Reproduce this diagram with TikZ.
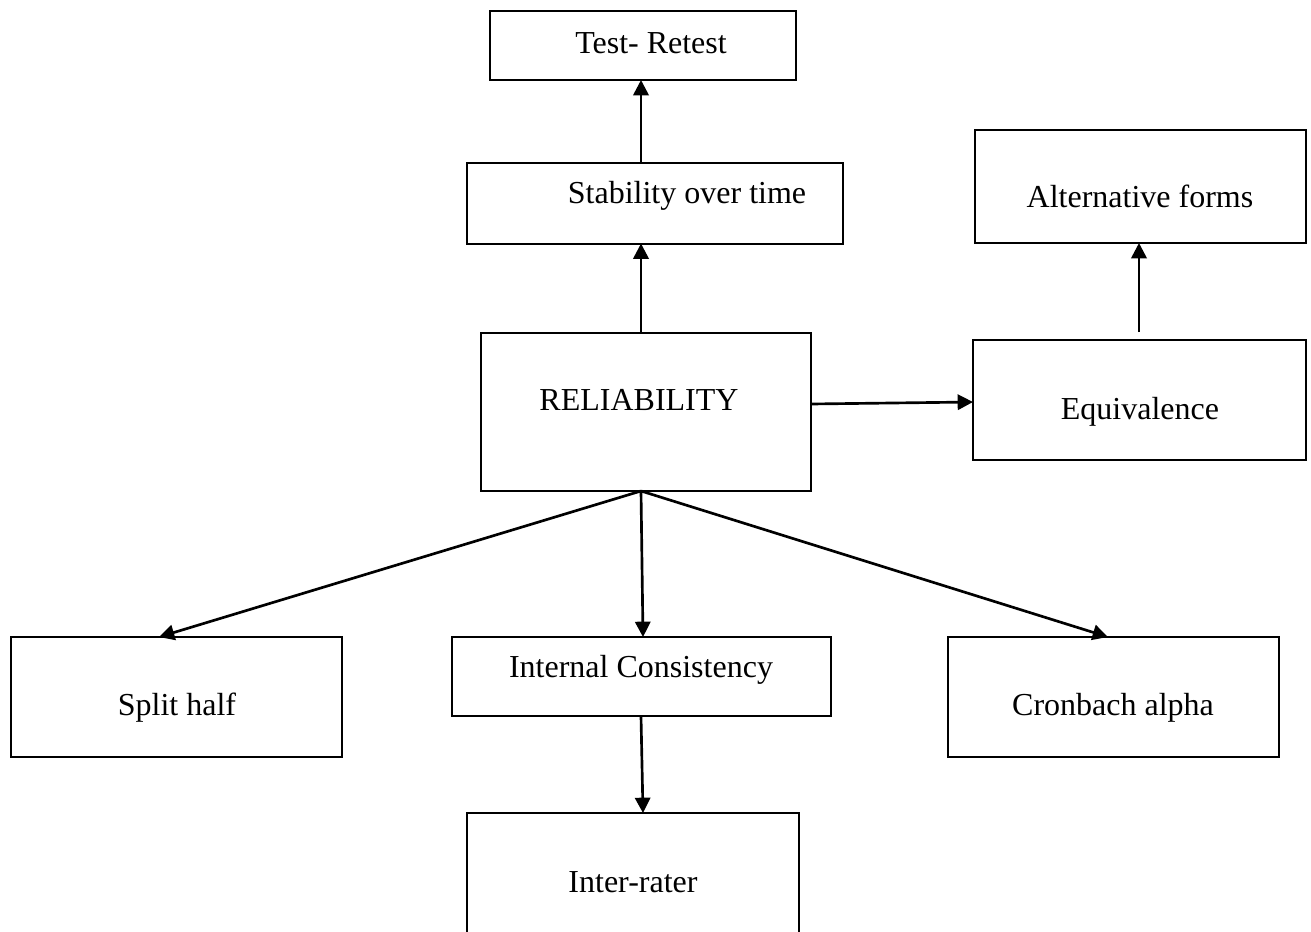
\documentclass[tikz,border=0pt]{standalone}
\usepackage{fontspec}
\setmainfont{Liberation Serif}
\usetikzlibrary{arrows.meta}
\begin{document}
\begin{tikzpicture}[x=0.75pt,y=-0.75pt,
  box/.style={draw,line width=1.5pt,inner sep=0pt,outer sep=0pt},
  lbl/.style={anchor=base,inner sep=0pt,font=\fontsize{24}{28}\selectfont},
  arr/.style={line width=2pt,-{Triangle[length=11.5pt,width=11.5pt]}}]
\useasboundingbox (0,0) rectangle (1311,932);
\clip (0,0) rectangle (1311,932);
% boxes, sized in pixel units
\node[box] (test) at (643,45.5) [minimum width=306*0.75pt,minimum height=69*0.75pt] {};
\node[box] (stab) at (655,203) [minimum width=376*0.75pt,minimum height=81*0.75pt] {};
\node[box] (alt) at (1140.5,186.5) [minimum width=331*0.75pt,minimum height=113*0.75pt] {};
\node[box] (rel) at (646,412) [minimum width=330*0.75pt,minimum height=158*0.75pt] {};
\node[box] (equiv) at (1139.5,400) [minimum width=333*0.75pt,minimum height=120*0.75pt] {};
\node[box] (split) at (176.5,697) [minimum width=331*0.75pt,minimum height=120*0.75pt] {};
\node[box] (intc) at (641.5,676.5) [minimum width=379*0.75pt,minimum height=79*0.75pt] {};
\node[box] (cron) at (1113.5,697) [minimum width=331*0.75pt,minimum height=120*0.75pt] {};
\node[box] (inter) at (633,883) [minimum width=332*0.75pt,minimum height=140*0.75pt] {};
% texts
\node[lbl] (ttest) at (651,53) {Test- Retest};
\node[lbl] (tstab) at (687,203) {Stability over time};
\node[lbl] (talt) at (1140,207) {Alternative forms};
\node[lbl] (trel) at (639,410) {RELIABILITY};
\node[lbl] (tequiv) at (1140,419) {Equivalence};
\node[lbl] (tsplit) at (177,715) {Split half};
\node[lbl] (tintc) at (641,677) {Internal Consistency};
\node[lbl] (tcron) at (1113,715) {Cronbach alpha};
\node[lbl] (tinter) at (633,892) {Inter-rater};
% connectors
\draw[arr] (stab.north -| 641,0) -- (test.south -| 641,0);
\draw[arr] (rel.north -| 641,0) -- (stab.south -| 641,0);
\draw[arr,shorten <=6pt] (equiv.north -| 1139,0) -- (alt.south -| 1139,0);
\draw[arr] (rel.east |- 0,404) -- (equiv.west |- 0,402);
\coordinate (fork) at (rel.south -| 641,0);
\draw[arr] (fork) -- (split.north -| 159,0);
\draw[arr] (fork) -- (intc.north -| 643,0);
\draw[arr] (fork) -- (cron.north -| 1108,0);
\draw[arr] (intc.south -| 641,0) -- (inter.north -| 643,0);
\end{tikzpicture}
\end{document}
